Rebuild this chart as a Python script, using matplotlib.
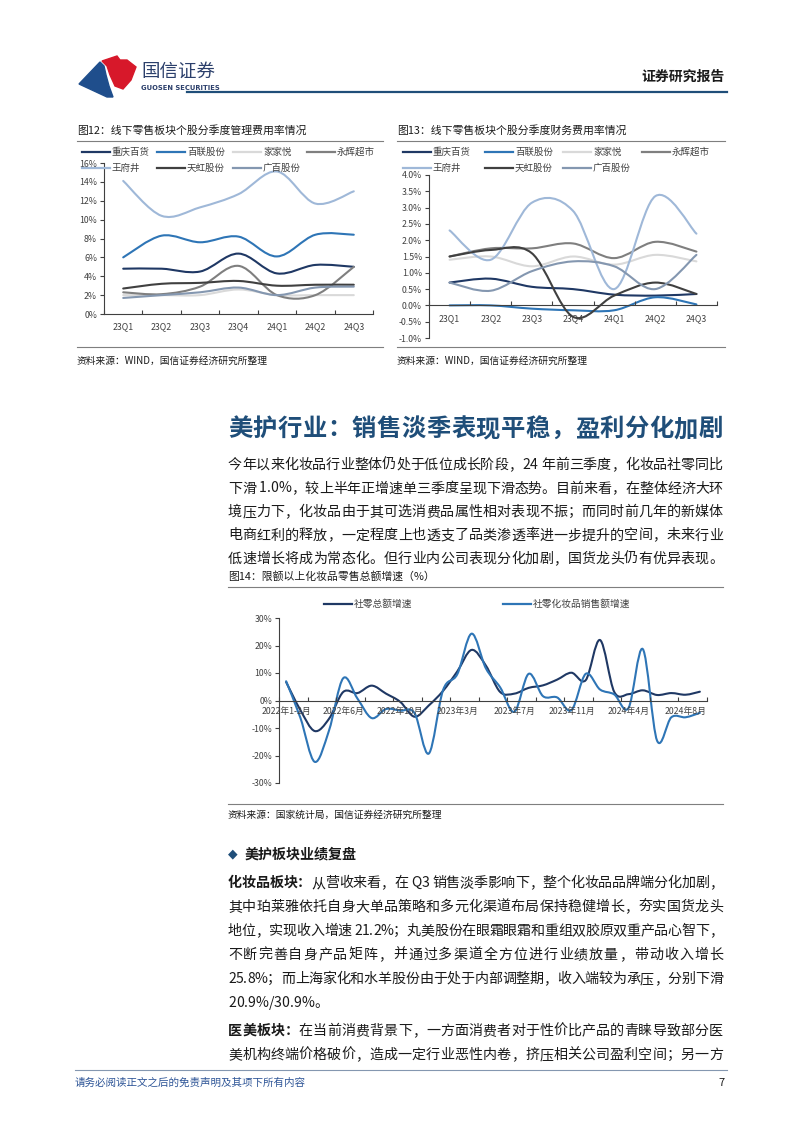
import numpy as np
import matplotlib
matplotlib.use("Agg")
import matplotlib.pyplot as plt
from matplotlib.path import Path
from matplotlib.patches import PathPatch, Polygon
from matplotlib.lines import Line2D
from matplotlib.font_manager import FontProperties

plt.rcParams['font.family'] = ['Noto Sans CJK SC', 'DejaVu Sans']
plt.rcParams['axes.unicode_minus'] = False

W, H = 802, 1133

# ---- data ----
stocks = ['重庆百货', '百联股份', '家家悦', '永辉超市', '王府井', '天虹股份', '广百股份']
stock_colors = ['#1f3864', '#2e75b6', '#d9d9d9', '#7f7f7f', '#9fb8d8', '#404040', '#8497b0']
quarters = ['23Q1', '23Q2', '23Q3', '23Q4', '24Q1', '24Q2', '24Q3']

admin_cqbh = [4.8, 4.8, 4.5, 6.4, 4.3, 5.2, 5.0]
admin_blgf = [6.0, 8.3, 7.6, 8.2, 6.1, 8.4, 8.4]
admin_jjy = [2.0, 2.0, 2.0, 2.6, 2.0, 2.0, 2.0]
admin_yhcs = [2.3, 2.1, 2.9, 5.1, 2.0, 2.0, 5.0]
admin_wfj = [14.1, 10.4, 11.3, 12.7, 15.1, 11.7, 13.0]
admin_thgf = [2.7, 3.2, 3.3, 3.5, 3.0, 3.1, 3.1]
admin_gbgf = [1.7, 2.0, 2.3, 2.8, 2.0, 2.8, 2.9]

fin_cqbh = [0.70, 0.82, 0.57, 0.50, 0.33, 0.30, 0.35]
fin_blgf = [0.00, 0.00, -0.10, -0.15, -0.15, 0.25, 0.03]
fin_jjy = [1.40, 1.50, 1.20, 1.50, 1.25, 1.55, 1.35]
fin_yhcs = [1.50, 1.75, 1.75, 1.90, 1.45, 1.95, 1.65]
fin_wfj = [2.30, 1.40, 3.15, 2.90, 0.50, 3.35, 2.20]
fin_thgf = [1.50, 1.70, 1.60, -0.35, 0.30, 0.70, 0.35]
fin_gbgf = [0.70, 0.45, 1.05, 1.35, 1.20, 0.50, 1.55]

months = (['2022年1-2月'] + [f'2022年{m}月' for m in range(3, 13)]
          + ['2023年1-2月'] + [f'2023年{m}月' for m in range(3, 13)]
          + ['2024年1-2月'] + [f'2024年{m}月' for m in range(3, 10)])
retail_total = [6.7, -3.5, -11.1, -6.7, 3.1, 2.7, 5.4, 2.5, -0.5, -5.9, -1.8,
                3.5, 10.6, 18.4, 12.7, 3.1, 2.5, 4.6, 5.5, 7.6, 10.1, 7.4,
                22.0, 3.1, 2.3, 3.7, 2.0, 2.7, 2.1, 3.2]
retail_cosm = [7.0, -6.3, -22.3, -11.0, 8.1, 0.7, -6.4, -3.1, -3.7, -4.6, -19.3,
               3.8, 9.6, 24.3, 11.7, 4.8, -4.1, 9.7, 1.6, 1.1, -3.5, 9.7,
               4.0, 2.2, -2.7, 18.7, -14.6, -6.1, -6.1, -4.5]

NAVY = '#1f3864'
BLUE = '#2e75b6'
TXT = '#1a1a1a'
GRID = '#7f7f7f'

fig = plt.figure(figsize=(W / 100, H / 100), dpi=100)
renderer = fig.canvas.get_renderer()


def fx(x):
    return x / W


def fy(y):
    return 1 - y / H


def axes_px(l, t, r, b):
    return fig.add_axes([l / W, 1 - b / H, (r - l) / W, (b - t) / H])


def hline(x0, x1, y, color=GRID, lw=0.8):
    fig.add_artist(Line2D([fx(x0), fx(x1)], [fy(y), fy(y)], color=color, lw=lw,
                          transform=fig.transFigure))


def smooth(ax, xs, ys, color, lw=1.5):
    pts = np.column_stack([xs, ys]).astype(float)
    n = len(pts)
    verts, codes = [pts[0]], [Path.MOVETO]
    for i in range(n - 1):
        p0 = pts[i - 1] if i > 0 else pts[i]
        p1, p2 = pts[i], pts[i + 1]
        p3 = pts[i + 2] if i + 2 < n else pts[i + 1]
        verts += [p1 + (p2 - p0) / 6, p2 - (p3 - p1) / 6, p2]
        codes += [Path.CURVE4] * 3
    ax.add_patch(PathPatch(Path(verts, codes), fill=False, edgecolor=color, lw=lw,
                           capstyle='round', joinstyle='round'))


def justify(segs, x0, x1, base, size, color=TXT, stretch=True):
    chars = [(ch, wt) for s, wt in segs for ch in s]
    widths = []
    for ch, wt in chars:
        prop = FontProperties(family=['Noto Sans CJK SC', 'DejaVu Sans'], size=size, weight=wt)
        w, _, _ = renderer.get_text_width_height_descent(ch, prop, ismath=False)
        widths.append(w)
    gap = (x1 - x0 - sum(widths)) / (len(chars) - 1) if stretch else 0
    x = x0
    for (ch, wt), w in zip(chars, widths):
        fig.text(fx(x), fy(base), ch, fontsize=size, fontweight=wt, color=color,
                 ha='left', va='baseline')
        x += w + gap


def legend_px(entries, xs, ys, size=6.8, length=28):
    k = 0
    for y in ys:
        for x in xs:
            if k >= len(entries):
                return
            name, c = entries[k]
            fig.add_artist(Line2D([fx(x), fx(x + length)], [fy(y), fy(y)], color=c, lw=1.6,
                                  transform=fig.transFigure))
            fig.text(fx(x + length + 2), fy(y), name, fontsize=size, color='#404040',
                     ha='left', va='center')
            k += 1


def style_axes(ax, xlabels, ylim, yticks, yfmt, zero=None, label_every=1, minor_step=1):
    n = len(xlabels)
    ax.set_xlim(-0.5, n - 0.5)
    ax.set_ylim(*ylim)
    ax.set_yticks(yticks)
    ax.set_yticklabels([yfmt(v) for v in yticks])
    ax.set_xticks(range(0, n, label_every))
    ax.set_xticklabels(xlabels[::label_every])
    ax.set_xticks(np.arange(-0.5, n, minor_step), minor=True)
    for s in ['top', 'right']:
        ax.spines[s].set_visible(False)
    for s in ['left', 'bottom']:
        ax.spines[s].set_color('#404040')
        ax.spines[s].set_linewidth(0.8)
    if zero is not None:
        ax.spines['bottom'].set_position(('data', zero))
    ax.tick_params(axis='y', direction='out', length=3, width=0.8, color='#404040',
                   labelsize=6.3, labelcolor='#404040', pad=2)
    ax.tick_params(axis='x', which='major', length=0, labelsize=6.3, labelcolor='#404040', pad=6)
    ax.tick_params(axis='x', which='minor', direction='in', length=3, width=0.8, color='#404040')
    ax.patch.set_alpha(0)


# ---- header ----
blue_logo = [(79, 84), (100, 62), (104, 66), (106, 75), (109, 86), (113, 97), (107, 97)]
red_logo = [(102, 61), (117, 56), (120, 60), (127, 60), (136, 67), (131, 80), (123, 89),
            (115, 86), (110, 75), (107, 66)]
fig.add_artist(Polygon([(fx(x), fy(y)) for x, y in blue_logo], closed=True, color='#1f4e8c',
                       transform=fig.transFigure))
fig.add_artist(Polygon([(fx(x), fy(y)) for x, y in red_logo], closed=True, color='#d7182a',
                       transform=fig.transFigure))
fig.text(fx(141), fy(72), '国信证券', fontsize=13.3, color='#2b3f6b', ha='left', va='center')
fig.text(fx(141), fy(87.5), 'GUOSEN SECURITIES', fontsize=4.9, fontweight='bold',
         color='#2b3f6b', ha='left', va='center', family=['Liberation Sans Narrow', 'DejaVu Sans'])
fig.text(fx(725), fy(77), '证券研究报告', fontsize=10, fontweight='bold', color=TXT,
         ha='right', va='center')
hline(187, 727, 92, color='#1f4e79', lw=1.6)

# ---- chart 12 ----
fig.text(fx(77), fy(130), '图12：线下零售板块个股分季度管理费用率情况', fontsize=7.8, color=TXT,
         ha='left', va='center')
hline(77, 383, 141)
ax1 = axes_px(104, 163, 373, 314)
for ys, c in zip([admin_cqbh, admin_blgf, admin_jjy, admin_yhcs, admin_wfj, admin_thgf, admin_gbgf],
                 stock_colors):
    smooth(ax1, range(len(quarters)), ys, c)
style_axes(ax1, quarters, (0, 16), range(0, 17, 2), lambda v: f'{v}%')
legend_px(list(zip(stocks, stock_colors)), [82, 157, 233, 307], [152, 168])
hline(77, 383, 347)
fig.text(fx(77), fy(361), '资料来源：WIND，国信证券经济研究所整理', fontsize=7, color=TXT,
         ha='left', va='center')

# ---- chart 13 ----
fig.text(fx(397), fy(130), '图13：线下零售板块个股分季度财务费用率情况', fontsize=7.8, color=TXT,
         ha='left', va='center')
hline(397, 725, 141)
ax2 = axes_px(429, 175, 717, 338)
for ys, c in zip([fin_cqbh, fin_blgf, fin_jjy, fin_yhcs, fin_wfj, fin_thgf, fin_gbgf], stock_colors):
    smooth(ax2, range(len(quarters)), ys, c)
style_axes(ax2, quarters, (-1, 4), np.arange(-1, 4.01, 0.5), lambda v: f'{v:.1f}%', zero=0)
legend_px(list(zip(stocks, stock_colors)), [403, 485, 563, 642], [152, 168])
hline(397, 725, 347)
fig.text(fx(397), fy(361), '资料来源：WIND，国信证券经济研究所整理', fontsize=7, color=TXT,
         ha='left', va='center')

# ---- section heading and paragraph ----
justify([('美护行业：销售淡季表现平稳，盈利分化加剧', 'bold')], 228, 723, 436, 17.5, color='#1f4e79')
para1 = [
    '今年以来化妆品行业整体仍处于低位成长阶段，24 年前三季度，化妆品社零同比',
    '下滑 1.0%，较上半年正增速单三季度呈现下滑态势。目前来看，在整体经济大环',
    '境压力下，化妆品由于其可选消费品属性相对表现不振；而同时前几年的新媒体',
    '电商红利的释放，一定程度上也透支了品类渗透率进一步提升的空间，未来行业',
    '低速增长将成为常态化。但行业内公司表现分化加剧，国货龙头仍有优异表现。',
]
for i, line in enumerate(para1):
    justify([(line, 'normal')], 228, 723, 469 + 23.5 * i, 10.1)

# ---- chart 14 ----
fig.text(fx(228), fy(576), '图14：限额以上化妆品零售总额增速（%）', fontsize=7.8, color=TXT,
         ha='left', va='center')
hline(228, 723, 587)
ax3 = axes_px(279, 618, 707, 783)
smooth(ax3, range(len(months)), retail_total, NAVY)
smooth(ax3, range(len(months)), retail_cosm, BLUE)
style_axes(ax3, months, (-30, 30), range(-30, 31, 10), lambda v: f'{v}%', zero=0,
           label_every=4, minor_step=2)
ax3.tick_params(axis='x', which='major', pad=5)
legend_px([('社零总额增速', NAVY), ('社零化妆品销售额增速', BLUE)], [324, 503], [604], size=7)
hline(228, 723, 804)
fig.text(fx(228), fy(815), '资料来源：国家统计局，国信证券经济研究所整理', fontsize=7, color=TXT,
         ha='left', va='center')

# ---- review section ----
fig.text(fx(228), fy(854), '◆', fontsize=9, color='#1f4e79', ha='left', va='center',
         family=['DejaVu Sans'])
fig.text(fx(245), fy(854), '美护板块业绩复盘', fontsize=10.1, fontweight='bold', color=TXT,
         ha='left', va='center')
para2 = [
    [('化妆品板块：', 'bold'), ('从营收来看，在 Q3 销售淡季影响下，整个化妆品品牌端分化加剧，', 'normal')],
    [('其中珀莱雅依托自身大单品策略和多元化渠道布局保持稳健增长，夯实国货龙头', 'normal')],
    [('地位，实现收入增速 21.2%；丸美股份在眼霜眼霜和重组双胶原双重产品心智下，', 'normal')],
    [('不断完善自身产品矩阵，并通过多渠道全方位进行业绩放量，带动收入增长', 'normal')],
    [('25.8%；而上海家化和水羊股份由于处于内部调整期，收入端较为承压，分别下滑', 'normal')],
]
for i, segs in enumerate(para2):
    justify(segs, 228, 723, 887 + 24 * i, 10.1)
justify([('20.9%/30.9%。', 'normal')], 228, 723, 887 + 24 * 5, 10.1, stretch=False)
para3 = [
    [('医美板块：', 'bold'), ('在当前消费背景下，一方面消费者对于性价比产品的青睐导致部分医', 'normal')],
    [('美机构终端价格破价，造成一定行业恶性内卷，挤压相关公司盈利空间；另一方', 'normal')],
]
for i, segs in enumerate(para3):
    justify(segs, 228, 723, 1035 + 24 * i, 10.1)

# ---- footer ----
hline(75, 727, 1070, color='#8497b0', lw=0.8)
fig.text(fx(75), fy(1083), '请务必阅读正文之后的免责声明及其项下所有内容', fontsize=7.6,
         color='#2e5597', ha='left', va='center', style='italic')
fig.text(fx(725), fy(1083), '7', fontsize=8, color=TXT, ha='right', va='center')

fig.savefig('out.png', dpi=100)
